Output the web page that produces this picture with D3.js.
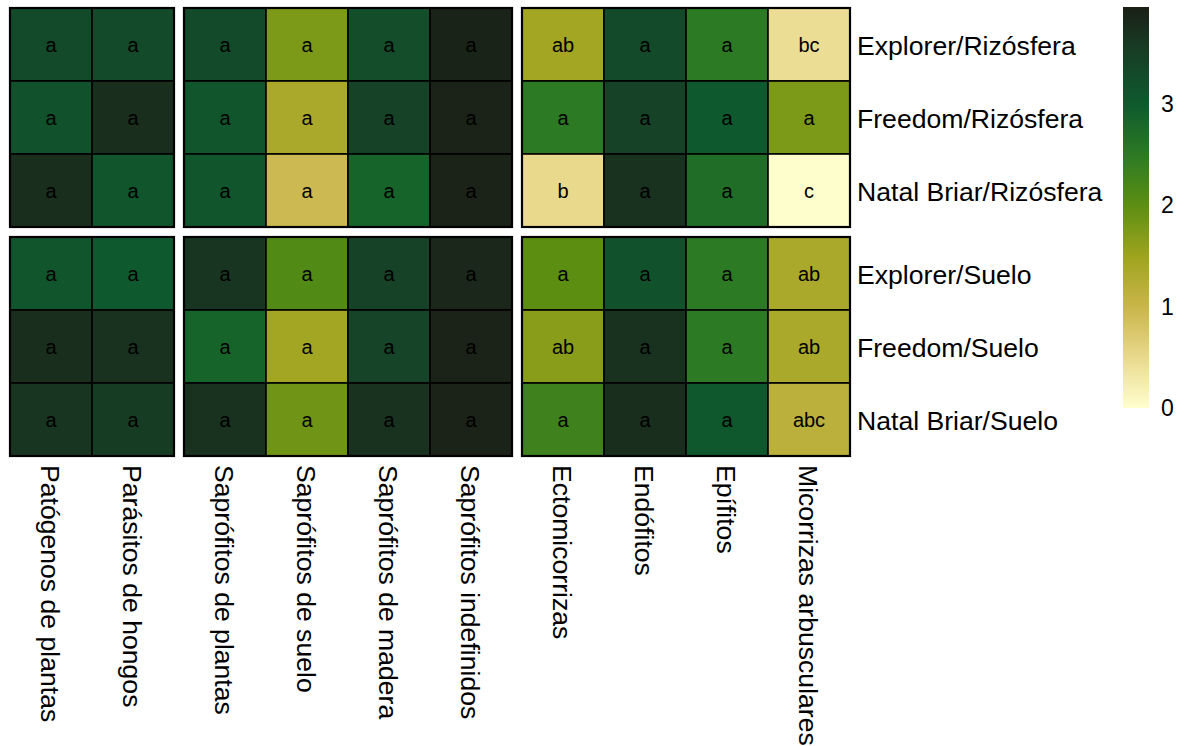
<!DOCTYPE html>
<html><head><meta charset="utf-8">
<script src="https://cdn.jsdelivr.net/npm/d3@7"></script>
<style>body{margin:0;background:#fff;} svg{display:block;font-family:"Liberation Sans",Arial,sans-serif;}</style>
</head><body>
<svg id="chart" width="1184" height="746"></svg>
<script>
const columns = ["Patógenos de plantas","Parásitos de hongos","Saprófitos de plantas","Saprófitos de suelo","Saprófitos de madera","Saprófitos indefinidos","Ectomicorrizas","Endófitos","Epífitos","Micorrizas arbusculares"];
const columnGroups = [0,0,1,1,1,1,2,2,2,2];
const rows = ["Explorer/Rizósfera","Freedom/Rizósfera","Natal Briar/Rizósfera","Explorer/Suelo","Freedom/Suelo","Natal Briar/Suelo"];
const rowGroups = [0,0,0,1,1,1];
const values = [
  [3.3, 3.3, 3.3, 1.75, 3.25, 3.9, 1.45, 3.3, 2.5, 0.45],
  [3.15,3.75,3.1, 1.35, 3.45, 3.92,2.5, 3.45,3.0, 1.75],
  [3.75,3.1, 3.1, 0.95, 2.85, 3.92,0.5, 3.7, 2.7, 0.02],
  [3.1, 3.0, 3.65,2.1,  3.45, 3.85,2.0, 3.15,2.5, 1.35],
  [3.75,3.7, 2.85,1.45, 3.4,  3.92,1.65,3.7, 2.5, 1.35],
  [3.65,3.55,3.7, 1.85, 3.7,  3.92,2.3, 3.75,3.05,1.15]
];
const letters = [
  ["a","a","a","a","a","a","ab","a","a","bc"],
  ["a","a","a","a","a","a","a","a","a","a"],
  ["a","a","a","a","a","a","b","a","a","c"],
  ["a","a","a","a","a","a","a","a","a","ab"],
  ["a","a","a","a","a","a","ab","a","a","ab"],
  ["a","a","a","a","a","a","a","a","a","abc"]
];
const legendTicks = [0,1,2,3];
const legendMax = 3.96;

const stops = [[0,"#ffffcf"],[0.5,"#e9d98d"],[1,"#c9b54a"],[1.5,"#9ea41e"],[2,"#5c8e12"],[2.5,"#2c7a24"],[3,"#0e5a2e"],[3.5,"#173f26"],[3.96,"#1b1f16"]];
const color = d3.scaleLinear().domain(stops.map(s=>s[0])).range(stops.map(s=>s[1])).interpolate(d3.interpolateRgb).clamp(true);

const svg = d3.select("#chart");
const cellW = 82, cellH = 73, gap = 10;
const x0 = 10, y0 = 8;
const xSlot = d3.scaleLinear().domain([0,1]).range([x0, x0+cellW]);
const ySlot = d3.scaleLinear().domain([0,1]).range([y0, y0+cellH]);
const gapX = gap/cellW, gapY = gap/cellH;
const xPos = i => xSlot(i + columnGroups[i]*gapX);
const yPos = j => ySlot(j + rowGroups[j]*gapY);

const cells = [];
rows.forEach((r,j)=>columns.forEach((c,i)=>cells.push({i,j,v:values[j][i],t:letters[j][i]})));

const g = svg.append("g");
g.selectAll("rect.cell").data(cells).join("rect").attr("class","cell")
  .attr("x",d=>xPos(d.i)).attr("y",d=>yPos(d.j))
  .attr("width",cellW).attr("height",cellH)
  .attr("fill",d=>color(d.v)).attr("stroke","#000").attr("stroke-width",1.6);

g.selectAll("text.lab").data(cells).join("text").attr("class","lab")
  .attr("x",d=>xPos(d.i)+cellW/2).attr("y",d=>yPos(d.j)+cellH/2)
  .attr("dy","0.35em").attr("text-anchor","middle")
  .attr("font-size",20).attr("fill","#000").text(d=>d.t);

const cg = d3.groups(columns.map((c,i)=>({i,g:columnGroups[i]})), d=>d.g);
const rg = d3.groups(rows.map((r,j)=>({j,g:rowGroups[j]})), d=>d.g);
cg.forEach(([k,cs])=>rg.forEach(([k2,rs])=>{
  const i0=cs[0].i, i1=cs[cs.length-1].i, j0=rs[0].j, j1=rs[rs.length-1].j;
  g.append("rect").attr("x",xPos(i0)).attr("y",yPos(j0))
    .attr("width",xPos(i1)+cellW-xPos(i0)).attr("height",yPos(j1)+cellH-yPos(j0))
    .attr("fill","none").attr("stroke","#000").attr("stroke-width",2.2);
}));

svg.selectAll("text.row").data(rows).join("text").attr("class","row")
  .attr("x",857).attr("y",(d,j)=>yPos(j)+cellH/2+10.5)
  .attr("font-size",26.6).attr("fill","#000").text(d=>d);

const lastY = yPos(rows.length-1)+cellH;
svg.selectAll("text.col").data(columns).join("text").attr("class","col")
  .attr("transform",(d,i)=>`translate(${xPos(i)+cellW/2},${lastY+9}) rotate(90)`)
  .attr("dy","0.36em").attr("font-size",26.6).attr("fill","#000").text(d=>d);

const ly = d3.scaleLinear().domain([0,legendMax]).range([408,7]);
const defs = svg.append("defs");
const grad = defs.append("linearGradient").attr("id","lg").attr("x1",0).attr("y1",1).attr("x2",0).attr("y2",0);
d3.range(0,41).forEach(k=>{const v=legendMax*k/40; grad.append("stop").attr("offset",k/40).attr("stop-color",color(v));});
svg.append("rect").attr("x",1123).attr("y",ly(legendMax)).attr("width",26).attr("height",ly(0)-ly(legendMax)).attr("fill","url(#lg)");
const axis = d3.axisRight(ly).tickValues(legendTicks).tickSize(0).tickPadding(12).tickFormat(d3.format("d"));
const ag = svg.append("g").attr("transform","translate(1149,0)").call(axis);
ag.select(".domain").remove();
ag.selectAll("text").attr("font-size",23).attr("fill","#000").attr("font-family","Liberation Sans, Arial, sans-serif");
</script>
</body></html>
